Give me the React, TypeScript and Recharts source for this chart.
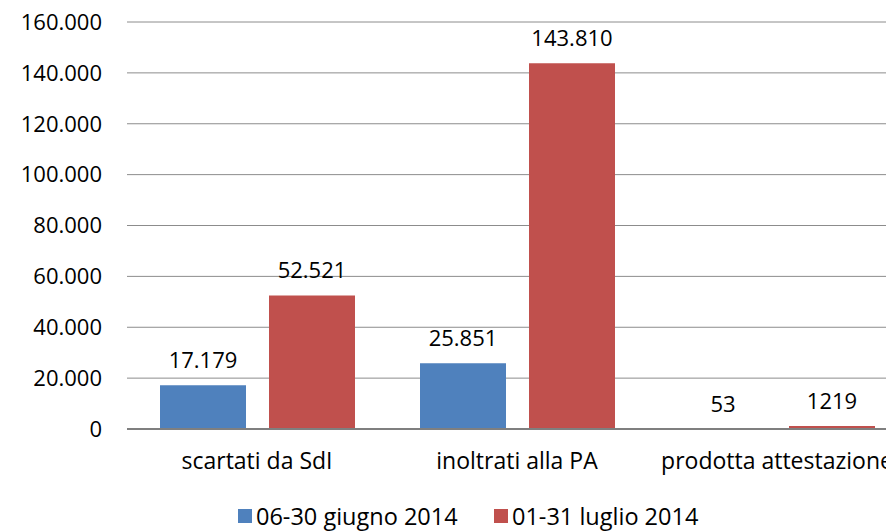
import { BarChart, Bar, XAxis, YAxis, CartesianGrid, Legend, LabelList } from 'recharts';

const categories = ['scartati da SdI', 'inoltrati alla PA', 'prodotta attestazione'];
const giugno = [17179, 25851, 53];
const luglio = [52521, 143810, 1219];
const yTicks = [0, 20000, 40000, 60000, 80000, 100000, 120000, 140000, 160000];

const seriesNames = ['06-30 giugno 2014', '01-31 luglio 2014'];
const colors = ['#4F81BD', '#C0504D'];

const FONT = '"Open Sans", Lato, sans-serif';

// groups thousands only from 5 digits up, like it-IT
const fmt = (v: number) => {
  const s = String(Math.round(v));
  if (s.length < 5) return s;
  return s.replace(/\B(?=(\d{3})+(?!\d))/g, '.');
};

const data = categories.map((name, i) => ({ name, giugno: giugno[i], luglio: luglio[i] }));

const LegendContent = () => (
  <div style={{ display: 'flex', alignItems: 'center', fontFamily: FONT, fontSize: 23.5, lineHeight: '26px', color: '#000' }}>
    {seriesNames.map((n, i) => (
      <div key={n} style={{ display: 'flex', alignItems: 'center', width: i === 0 ? 256 : 'auto' }}>
        <div style={{ width: 14, height: 14, background: colors[i], marginRight: 4 }} />
        <span>{n}</span>
      </div>
    ))}
  </div>
);

export default function App() {
  return (
    <div style={{ position: 'absolute', left: 0, top: 0, width: 886, height: 531, overflow: 'hidden', background: '#fff' }}>
      <BarChart
        width={930}
        height={531}
        data={data}
        margin={{ top: 22, right: 23, bottom: 42, left: 0 }}
        barSize={86}
        barGap={23}
      >
        <CartesianGrid vertical={false} stroke="#8c8c8c" strokeWidth={1} />
        <XAxis
          dataKey="name"
          height={60}
          tickSize={0}
          tickMargin={24}
          axisLine={{ stroke: '#7f7f7f', strokeWidth: 2 }}
          tick={{ fill: '#000', fontSize: 23, fontFamily: FONT }}
          interval={0}
        />
        <YAxis
          width={127}
          domain={[0, 160000]}
          ticks={yTicks}
          tickFormatter={fmt}
          tickSize={0}
          tickMargin={25}
          axisLine={false}
          tick={{ fill: '#000', fontSize: 22, fontFamily: FONT }}
        />
        <Legend
          layout="horizontal"
          verticalAlign="middle"
          align="center"
          content={<LegendContent />}
          wrapperStyle={{ top: 503, left: 238, width: 'auto' }}
        />
        <Bar dataKey="giugno" name={seriesNames[0]} fill={colors[0]} isAnimationActive={false}>
          <LabelList dataKey="giugno" position="top" offset={17} formatter={(v: any) => fmt(Number(v))} fill="#000" fontSize={22} fontFamily={FONT} />
        </Bar>
        <Bar dataKey="luglio" name={seriesNames[1]} fill={colors[1]} isAnimationActive={false}>
          <LabelList dataKey="luglio" position="top" offset={17} formatter={(v: any) => fmt(Number(v))} fill="#000" fontSize={22} fontFamily={FONT} />
        </Bar>
      </BarChart>
    </div>
  );
}
